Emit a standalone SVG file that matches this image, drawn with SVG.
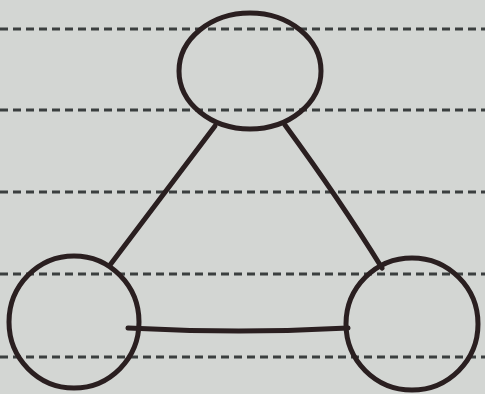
<svg xmlns="http://www.w3.org/2000/svg" width="485" height="394" viewBox="0 0 485 394">
<style>
.rule{stroke:#3b3f3f;stroke-width:3;stroke-dasharray:8 5;fill:none}
.ink{stroke:#2a1f20;stroke-width:5;fill:none;stroke-linecap:round;stroke-linejoin:round}
</style>
<rect width="485" height="394" fill="#d3d6d3"/>
<g id="rules">
<line class="rule" x1="0" y1="29" x2="485" y2="29"/>
<line class="rule" x1="0" y1="110" x2="485" y2="110"/>
<line class="rule" x1="0" y1="192" x2="485" y2="192"/>
<line class="rule" x1="0" y1="274" x2="485" y2="274"/>
<line class="rule" x1="0" y1="357" x2="485" y2="357"/>
</g>
<g id="connectors">
<path class="ink" d="M215,126 L110,265"/>
<path class="ink" d="M285,125 Q340,200 382,268"/>
<path class="ink" d="M128,328 Q240,334 348,328"/>
</g>
<g id="node-top"><ellipse class="ink" cx="250" cy="71" rx="71" ry="58"/></g>
<g id="node-left"><ellipse class="ink" cx="74" cy="322" rx="65" ry="66"/></g>
<g id="node-right"><ellipse class="ink" cx="412" cy="324" rx="66" ry="66"/></g>
</svg>
